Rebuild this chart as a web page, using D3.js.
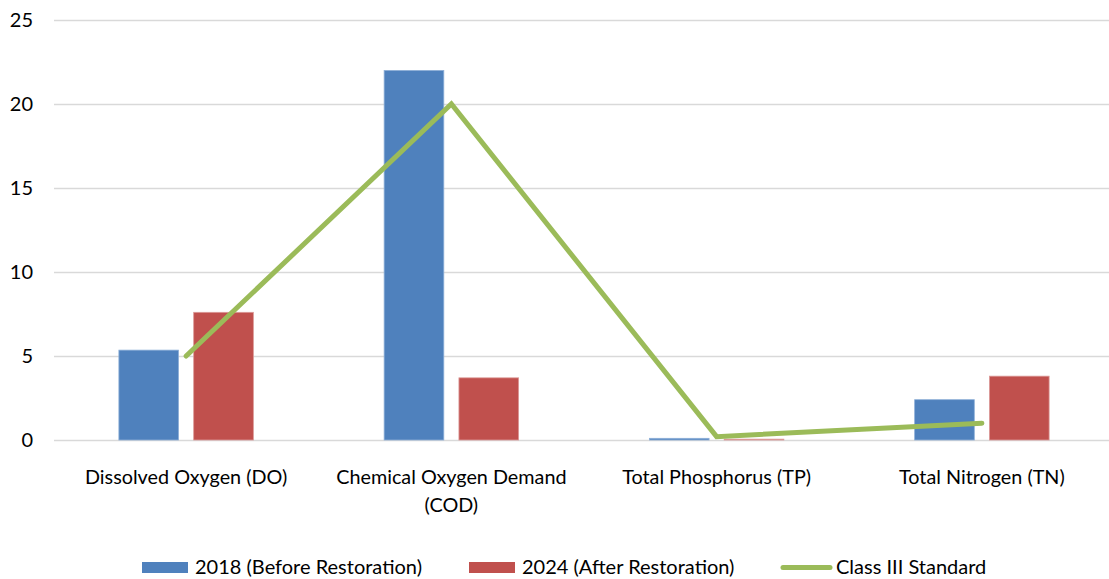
<!DOCTYPE html>
<html><head><meta charset="utf-8">
<script src="https://cdn.jsdelivr.net/npm/d3@7"></script>
<style>body{margin:0;background:#fff}svg{display:block}text{font-family:Lato,"Open Sans",sans-serif;fill:#000}</style>
</head><body><svg id="c" width="1109" height="579"></svg>
<script>
const categories = ["Dissolved Oxygen (DO)", "Chemical Oxygen Demand (COD)", "Total Phosphorus (TP)", "Total Nitrogen (TN)"];
const categoryLines = [["Dissolved Oxygen (DO)"], ["Chemical Oxygen Demand", "(COD)"], ["Total Phosphorus (TP)"], ["Total Nitrogen (TN)"]];
const values2018 = [5.35, 22, 0.1, 2.4];
const values2024 = [7.6, 3.7, 0.05, 3.8];
const standard = [5, 20, 0.2, 1];
const yTicks = [0, 5, 10, 15, 20, 25];
const seriesNames = ["2018 (Before Restoration)", "2024 (After Restoration)", "Class III Standard"];
const colors = ["#4F81BD", "#C0504D", "#9BBB59"];

const svg = d3.select("#c");
const x = d3.scaleBand().domain(categories).range([53.5, 1114.5]).padding(0);
const y = d3.scaleLinear().domain([0, 25]).range([440, 20]);
const barW = x.bandwidth() * 0.225;
const gap = x.bandwidth() * 0.057;

// gridlines
svg.append("g").selectAll("line").data(yTicks).join("line")
  .attr("x1", 54).attr("x2", 1110)
  .attr("y1", d => y(d) + 0.5).attr("y2", d => y(d) + 0.5)
  .attr("stroke", "#D9D9D9").attr("stroke-width", 1.3);

// y tick labels
svg.append("g").selectAll("text").data(yTicks).join("text")
  .attr("x", 33).attr("y", d => y(d)).attr("dy", "0.35em")
  .attr("text-anchor", "end").attr("font-size", 20).text(d => d);

// bars
const series = [values2018, values2024];
series.forEach((vals, si) => {
  svg.append("g").selectAll("rect").data(vals).join("rect")
    .attr("x", (d, i) => x(categories[i]) + x.bandwidth() / 2 + (si === 0 ? -(gap / 2 + barW) : gap / 2))
    .attr("y", d => y(d))
    .attr("width", barW)
    .attr("height", d => y(0) - y(d))
    .attr("fill", colors[si])
    .attr("stroke", si === 0 ? "#8FB0D8" : "#DB9A98").attr("stroke-width", 0.8);
});

// line
const line = d3.line().x((d, i) => x(categories[i]) + x.bandwidth() / 2).y(d => y(d));
svg.append("path").datum(standard).attr("d", line)
  .attr("fill", "none").attr("stroke", colors[2]).attr("stroke-width", 5)
  .attr("stroke-linejoin", "miter").attr("stroke-linecap", "round");

// category labels
categoryLines.forEach((lines, i) => {
  const t = svg.append("text").attr("text-anchor", "middle").attr("font-size", 19.8);
  lines.forEach((l, j) => {
    t.append("tspan").attr("x", x(categories[i]) + x.bandwidth() / 2).attr("y", 484 + j * 28).text(l);
  });
});

// legend
const legendItems = [
  {sx: 142, tx: 195, type: "rect"},
  {sx: 469, tx: 522, type: "rect"},
  {sx: 783, tx: 836, type: "line"}
];
legendItems.forEach((it, i) => {
  if (it.type === "rect") {
    svg.append("rect").attr("x", it.sx).attr("y", 562).attr("width", 46).attr("height", 11).attr("fill", colors[i]);
  } else {
    svg.append("line").attr("x1", it.sx).attr("x2", it.sx + 47).attr("y1", 567.5).attr("y2", 567.5)
      .attr("stroke", colors[i]).attr("stroke-width", 5).attr("stroke-linecap", "round");
  }
  svg.append("text").attr("x", it.tx).attr("y", 574).attr("font-size", 20).text(seriesNames[i]);
});
</script></body></html>
